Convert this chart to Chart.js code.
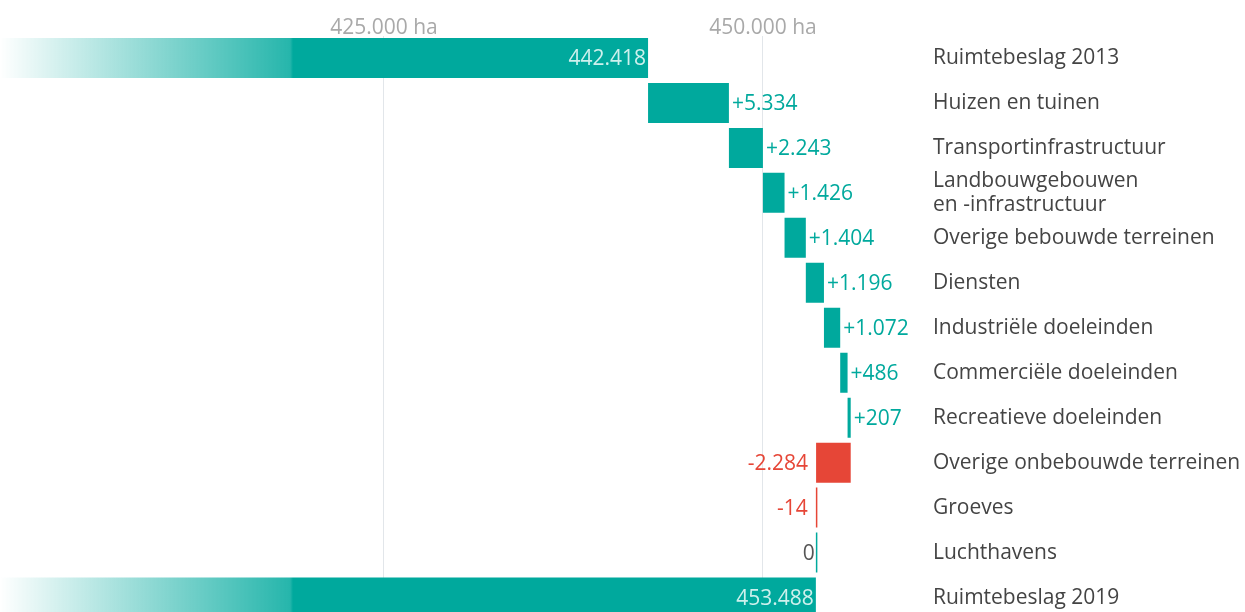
<!DOCTYPE html>
<html><head><meta charset="utf-8">
<script src="https://cdn.jsdelivr.net/npm/chart.js@4/dist/chart.umd.min.js"></script>
<style>html,body{margin:0;padding:0;overflow:hidden;background:#fff}#wrap{width:1245px;height:620px;position:relative}</style>
</head><body><div id="wrap"><canvas id="c"></canvas></div>
<script>
const categories = [
  ["Ruimtebeslag 2013"],
  ["Huizen en tuinen"],
  ["Transportinfrastructuur"],
  ["Landbouwgebouwen", "en -infrastructuur"],
  ["Overige bebouwde terreinen"],
  ["Diensten"],
  ["Industriële doeleinden"],
  ["Commerciële doeleinden"],
  ["Recreatieve doeleinden"],
  ["Overige onbebouwde terreinen"],
  ["Groeves"],
  ["Luchthavens"],
  ["Ruimtebeslag 2019"]
];
const startTotal = 442418;
const endTotal = 453488;
const changes = [5334, 2243, 1426, 1404, 1196, 1072, 486, 207, -2284, -14, 0];
const xTickValues = [425000, 450000];
const xMin = 399670;
const xMax = 461214;

const TEAL = '#00a99d';
const RED = '#e64637';
const FONT = 'Open Sans';
const FS = 21;

function fmt(v) {
  const s = String(Math.abs(v)).replace(/\B(?=(\d{3})+(?!\d))/g, '.');
  return (v < 0 ? '-' : '') + s;
}

// build floating ranges
const ranges = [[xMin, startTotal]];
const kinds = ['total'];
let cum = startTotal;
for (const c of changes) {
  ranges.push([cum, cum + c]);
  kinds.push(c > 0 ? 'pos' : (c < 0 ? 'neg' : 'zero'));
  cum += c;
}
ranges.push([xMin, endTotal]);
kinds.push('total');
const labelsText = [fmt(startTotal)].concat(changes.map(c => c > 0 ? '+' + fmt(c) : fmt(c))).concat([fmt(endTotal)]);

function totalGradient(ctx) {
  const g = ctx.createLinearGradient(0, 0, 296, 0);
  g.addColorStop(0, 'rgba(0,169,157,0)');
  g.addColorStop(0.98, 'rgba(0,169,157,0.85)');
  g.addColorStop(0.99, 'rgba(0,169,157,1)');
  g.addColorStop(1, 'rgba(0,169,157,1)');
  return g;
}

const valueLabels = {
  id: 'valueLabels',
  afterDatasetsDraw(chart) {
    const ctx = chart.ctx;
    const meta = chart.getDatasetMeta(0);
    ctx.save();
    ctx.font = FS + 'px "' + FONT + '"';
    ctx.textBaseline = 'middle';
    meta.data.forEach((el, i) => {
      const k = kinds[i];
      const left = Math.min(el.x, el.base), right = Math.max(el.x, el.base);
      const y = el.y + 1;
      if (k === 'total') {
        ctx.fillStyle = 'rgba(235,250,248,0.88)';
        ctx.textAlign = 'right';
        ctx.fillText(labelsText[i], right - 2, y);
      } else if (k === 'pos') {
        ctx.fillStyle = TEAL;
        ctx.textAlign = 'left';
        ctx.fillText(labelsText[i], right + 3, y);
      } else if (k === 'neg') {
        ctx.fillStyle = RED;
        ctx.textAlign = 'right';
        ctx.fillText(labelsText[i], left - 8, y);
      } else {
        ctx.fillStyle = '#555';
        ctx.textAlign = 'right';
        ctx.fillText(labelsText[i], left - 1, y);
      }
    });
    ctx.restore();
  }
};

new Chart(document.getElementById('c'), {
  type: 'bar',
  data: {
    labels: categories,
    datasets: [{
      data: ranges,
      backgroundColor: (c) => {
        const k = kinds[c.dataIndex];
        if (k === 'total') return totalGradient(c.chart.ctx);
        if (k === 'neg') return RED;
        return TEAL;
      },
      borderWidth: 0,
      borderSkipped: false,
      barPercentage: 1,
      categoryPercentage: 0.89,
      minBarLength: 1.5
    }]
  },
  options: {
    indexAxis: 'y',
    responsive: true,
    maintainAspectRatio: false,
    animation: false,
    layout: { padding: 0 },
    plugins: { legend: { display: false }, tooltip: { enabled: false } },
    scales: {
      x: {
        position: 'top',
        min: xMin,
        max: xMax,
        afterBuildTicks: (s) => { s.ticks = xTickValues.map(v => ({ value: v })); },
        afterFit: (s) => { s.height = 35.5; s.paddingLeft = 0; s.paddingRight = 0; },
        ticks: {
          autoSkip: false,
          maxRotation: 0,
          padding: -5,
          color: '#a9a9a9',
          font: { family: FONT, size: FS },
          callback: (v) => fmt(v) + ' ha'
        },
        grid: { color: '#e2e6ea', lineWidth: 1, drawTicks: false },
        border: { display: false }
      },
      y: {
        position: 'right',
        afterFit: (s) => { s.width = 312; s.paddingTop = 0; s.paddingBottom = 0; },
        ticks: {
          autoSkip: false,
          crossAlign: 'near',
          padding: 0,
          color: '#444',
          font: { family: FONT, size: FS, lineHeight: 1.15 }
        },
        grid: { display: false, drawTicks: false },
        border: { display: false }
      }
    }
  },
  plugins: [valueLabels]
});
</script>
</body></html>
